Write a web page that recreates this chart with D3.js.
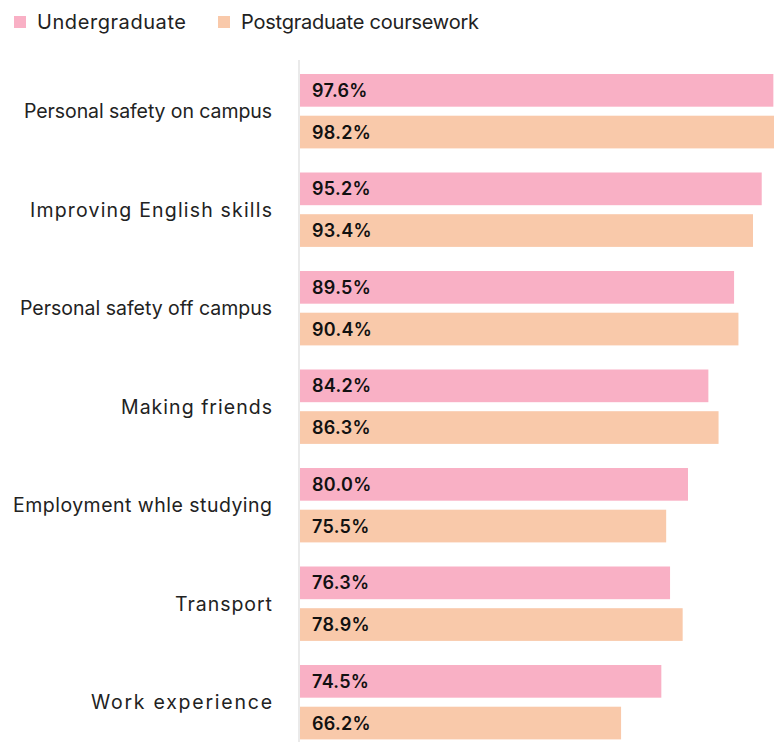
<!DOCTYPE html>
<html>
<head>
<meta charset="utf-8">
<script src="https://cdn.jsdelivr.net/npm/d3@7.9.0/dist/d3.min.js"></script>
<style>
  body { margin: 0; background: #fff; }
  svg { display: block; font-family: Inter, "Noto Sans", sans-serif; }
</style>
</head>
<body>
<svg id="chart" width="774" height="742"></svg>
<script>
const categories = [
  'Personal safety on campus',
  'Improving English skills',
  'Personal safety off campus',
  'Making friends',
  'Employment whle studying',
  'Transport',
  'Work experience'
];
const seriesNames = ['Undergraduate', 'Postgraduate coursework'];
const undergraduate = [97.6, 95.2, 89.5, 84.2, 80.0, 76.3, 74.5];
const postgraduate = [98.2, 93.4, 90.4, 86.3, 75.5, 78.9, 66.2];

const colors = ['#f9b0c5', '#f9c9aa'];
// rendered text widths in the original (its font spaced letters unevenly)
const labelWidths = [248, 242, 252, 151, 259, 97, 181];
const legendWidths = [149, 238];

const svg = d3.select('#chart');

let x = d3.scaleLinear().domain([0, 100]).range([300, 785]);
let y0 = d3.scaleBand().domain(categories).range([74, 763.5]);
let y1 = d3.scaleBand().domain(seriesNames).range([0, 74.4]).paddingInner(0.216);

// axis line
svg.append('line')
  .attr('x1', 299).attr('x2', 299)
  .attr('y1', 60).attr('y2', 742)
  .attr('stroke', '#e3e3e3').attr('stroke-width', 1.5);

let rows = categories.map((c, i) => ({
  cat: c,
  w: labelWidths[i],
  vals: [
    { s: seriesNames[0], v: undergraduate[i], color: colors[0] },
    { s: seriesNames[1], v: postgraduate[i], color: colors[1] }
  ]
}));

let groups = svg.selectAll('g.group')
  .data(rows)
  .join('g')
  .attr('class', 'group')
  .attr('transform', (d) => `translate(0,${y0(d.cat)})`);

groups.selectAll('rect')
  .data((d) => d.vals)
  .join('rect')
  .attr('x', x(0))
  .attr('y', (d) => y1(d.s))
  .attr('width', (d) => x(d.v) - x(0))
  .attr('height', y1.bandwidth())
  .attr('fill', (d) => d.color);

groups.selectAll('text.val')
  .data((d) => d.vals)
  .join('text')
  .attr('class', 'val')
  .attr('x', 312)
  .attr('y', (d) => y1(d.s) + y1.bandwidth() / 2)
  .attr('dy', '0.36em')
  .attr('font-size', 18)
  .attr('font-weight', 600)
  .attr('letter-spacing', 0.3)
  .attr('fill', '#111')
  .text((d) => d.v.toFixed(1) + '%');

groups.append('text')
  .attr('x', 272)
  .attr('y', 37)
  .attr('dy', '0.36em')
  .attr('text-anchor', 'end')
  .attr('font-size', 19.5)
  .attr('fill', '#222')
  .attr('textLength', (d) => d.w)
  .attr('lengthAdjust', 'spacing')
  .text((d) => d.cat);

// legend
let legendX = [14, 218];
seriesNames.forEach((name, i) => {
  svg.append('rect')
    .attr('x', legendX[i]).attr('y', 16)
    .attr('width', 12).attr('height', 12)
    .attr('fill', colors[i]);
  svg.append('text')
    .attr('x', legendX[i] + 23).attr('y', 22)
    .attr('dy', '0.36em')
    .attr('font-size', 20)
    .attr('fill', '#222')
    .attr('textLength', legendWidths[i])
    .attr('lengthAdjust', 'spacing')
    .text(name);
});
</script>
</body>
</html>
